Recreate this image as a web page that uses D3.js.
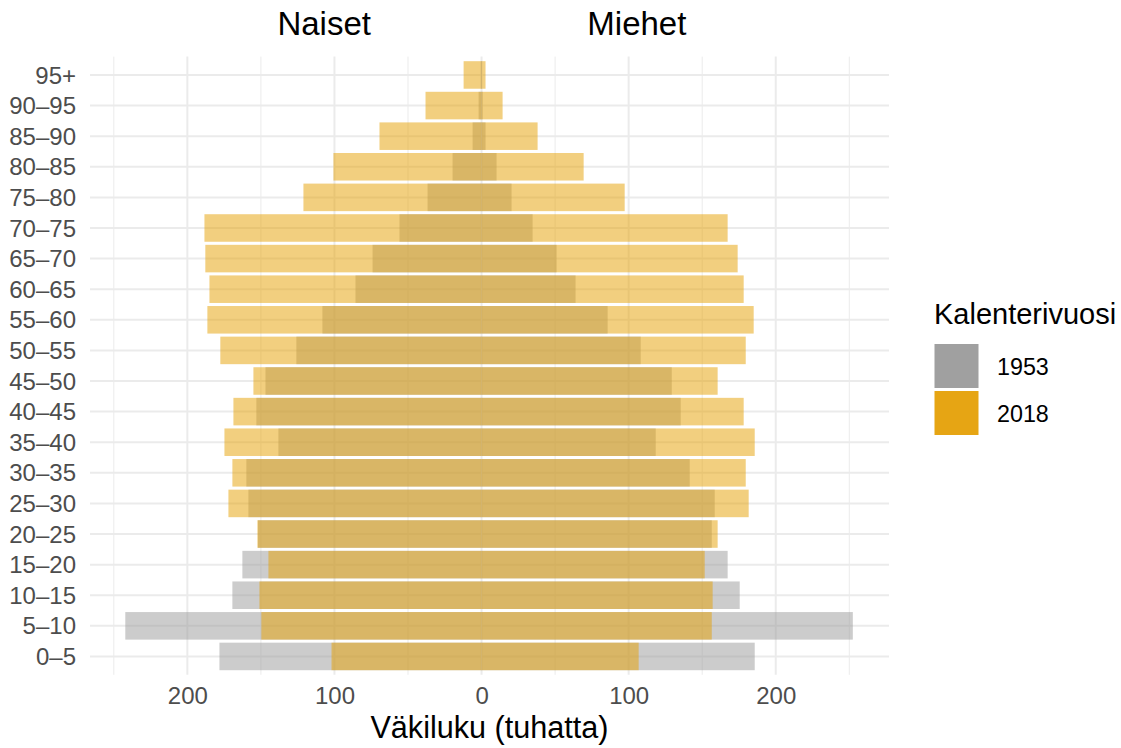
<!DOCTYPE html>
<html>
<head>
<meta charset="utf-8">
<script src="https://cdn.jsdelivr.net/npm/d3@7"></script>
<style>
  html, body { margin: 0; padding: 0; background: #ffffff; }
  svg { display: block; font-family: "Liberation Sans", Arial, Helvetica, sans-serif; }
</style>
</head>
<body>
<svg id="chart" width="1121" height="748"></svg>
<script>
// Age groups, bottom to top
const ageGroups = ["0–5","5–10","10–15","15–20","20–25","25–30","30–35","35–40","40–45","45–50",
                   "50–55","55–60","60–65","65–70","70–75","75–80","80–85","85–90","90–95","95+"];
// Population (thousands)
const women1953 = [178.2,242.2,169.4,162.6,152.0,158.5,159.9,138.1,153.1,146.9,
                   125.9,108.2,85.7,74.1,55.8,36.7,19.7,6.1,2.0,0.5];
const men1953   = [185.7,252.4,175.5,167.3,156.5,158.5,141.5,118.4,135.4,129.3,
                   108.2,85.7,63.9,51.0,34.7,20.4,10.2,2.7,0.7,0.3];
const women2018 = [102.0,149.7,151.0,144.9,152.4,172.1,169.4,174.8,168.7,155.1,
                   177.6,186.4,185.0,187.8,188.4,121.1,100.7,69.4,38.1,12.2];
const men2018   = [106.8,156.5,157.1,151.7,160.5,181.6,179.6,185.7,178.2,160.5,
                   179.6,185.0,178.2,174.1,167.3,97.3,69.4,38.1,14.3,2.7];
const years = ["1953","2018"];
const sexLabels = ["Naiset","Miehet"];
const xMajorTicks = [-200,-100,0,100,200];
const xMinorTicks = [-250,-150,-50,50,150,250];

const barColors = {"1953": "#999999", "2018": "#E69F00"};
const legendColors = {"1953": "#a0a0a0", "2018": "#e6a514"};

const svg = d3.select("#chart");
const panel = {left: 90, right: 889, top: 56.6, bottom: 674.8};

const x = d3.scaleLinear().domain([-266.2, 277]).range([panel.left, panel.right]);
const y = d3.scaleBand().domain(ageGroups).range([panel.bottom, panel.top])
            .paddingInner(0.1).paddingOuter(0.15);

// gridlines
const grid = svg.append("g");
grid.selectAll("line.minor").data(xMinorTicks).join("line")
  .attr("x1", d => x(d)).attr("x2", d => x(d))
  .attr("y1", panel.top).attr("y2", panel.bottom)
  .attr("stroke", "#ebebeb").attr("stroke-width", 1);
grid.selectAll("line.majorx").data(xMajorTicks).join("line")
  .attr("x1", d => x(d)).attr("x2", d => x(d))
  .attr("y1", panel.top).attr("y2", panel.bottom)
  .attr("stroke", "#ebebeb").attr("stroke-width", 2);
grid.selectAll("line.majory").data(ageGroups).join("line")
  .attr("x1", panel.left).attr("x2", panel.right)
  .attr("y1", d => y(d) + y.bandwidth()/2).attr("y2", d => y(d) + y.bandwidth()/2)
  .attr("stroke", "#ebebeb").attr("stroke-width", 2);

// bars
function rows(women, men, year) {
  const out = [];
  ageGroups.forEach((g, i) => {
    out.push({g, year, v: -women[i]});
    out.push({g, year, v: men[i]});
  });
  return out;
}
const data = rows(women1953, men1953, "1953").concat(rows(women2018, men2018, "2018"));
svg.append("g").selectAll("rect").data(data).join("rect")
  .attr("x", d => Math.min(x(0), x(d.v)))
  .attr("width", d => Math.abs(x(d.v) - x(0)))
  .attr("y", d => y(d.g))
  .attr("height", y.bandwidth())
  .attr("fill", d => barColors[d.year])
  .attr("fill-opacity", 0.5);

// x axis labels
const xAxis = d3.axisBottom(x).tickValues(xMajorTicks).tickSize(0).tickPadding(0)
  .tickFormat(d => Math.abs(d));
const xg = svg.append("g").attr("transform", `translate(0,${panel.bottom})`).call(xAxis);
xg.select(".domain").remove();
xg.selectAll("text").attr("font-size", 24).attr("fill", "#4d4d4d")
  .attr("font-family", "Liberation Sans, Arial, sans-serif")
  .attr("dy", null).attr("y", 29);

// y axis labels
const yAxis = d3.axisLeft(y).tickSize(0).tickPadding(0);
const yg = svg.append("g").attr("transform", `translate(76,0)`).call(yAxis);
yg.select(".domain").remove();
yg.selectAll("text").attr("font-size", 24).attr("fill", "#4d4d4d")
  .attr("font-family", "Liberation Sans, Arial, sans-serif")
  .attr("x", 0).attr("dy", "0.36em");

// panel titles
svg.append("g").selectAll("text").data(sexLabels).join("text")
  .attr("x", (d, i) => x(i === 0 ? -107 : 105.6))
  .attr("y", 34.5)
  .attr("text-anchor", "middle")
  .attr("font-size", 33)
  .attr("fill", "#000")
  .text(d => d);

// axis title
svg.append("text")
  .attr("x", (panel.left + panel.right)/2).attr("y", 738)
  .attr("text-anchor", "middle").attr("font-size", 30.6).attr("fill", "#000")
  .text("Väkiluku (tuhatta)");

// legend
const lg = svg.append("g");
lg.append("text").attr("x", 934).attr("y", 323.5).attr("font-size", 29).attr("fill", "#000")
  .text("Kalenterivuosi");
lg.selectAll("rect").data(years).join("rect")
  .attr("x", 934.5).attr("y", (d, i) => 344 + i*47)
  .attr("width", 44).attr("height", 44)
  .attr("fill", d => legendColors[d]);
lg.selectAll("text.lab").data(years).join("text")
  .attr("class", "lab")
  .attr("x", 997).attr("y", (d, i) => 374.6 + i*47)
  .attr("font-size", 23.3).attr("fill", "#000")
  .text(d => d);
</script>
</body>
</html>
